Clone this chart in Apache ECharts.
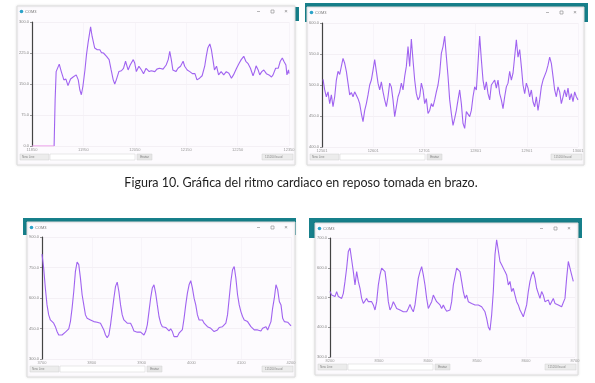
<!DOCTYPE html>
<html><head><meta charset="utf-8">
<script src="https://cdn.jsdelivr.net/npm/echarts@6/dist/echarts.min.js"></script>
<style>html,body{margin:0;padding:0;background:#fff}#c{width:595px;height:383px}</style>
</head><body><div id="c"></div>
<script>
// ---- DATA ----
const caption = 'Figura 10. Gráfica del ritmo cardiaco en reposo tomada en brazo.';
const windowTitle = 'COM3';

// Panel 1 (irregular samples)
const p1X = [43,45,47,53,57,62,66,70,75,80,86,90,93,96,99,103,106,109,114,117,122,127,132,135,139,145,150,154,158,161,164,169,174,178,182,187,191,197,200,203,208,213,217,222,228,232,239,243,248,255,261,265,268,271,274,280,284,289,294,297,302,307,312,317,321,326,331,336,339,342,346,349,352,355,359,363,368,373,378,383,388,392,398,403,407,412,416,420,425,430,433,436,440,443,447,451,456,461,466,469,474,479,483,487,490,494,496,499,500];
const p1Y = [0,112,180,198,180,160,162,146,162,167,172,160,136,124,144,184,221,249,288,265,237,233,233,226,225,217,209,184,160,150,160,180,182,188,205,184,196,209,200,180,193,184,175,188,180,182,180,186,188,186,196,209,229,209,184,180,188,193,205,193,184,180,175,175,160,164,170,193,217,237,247,233,209,184,193,172,180,172,180,176,164,172,188,200,209,217,205,200,188,170,180,194,184,172,180,184,175,172,167,172,188,188,205,213,205,196,172,184,175];
const p1BaseX = [0,43];
const p1BaseY = [0,0];
const p1YTicks = [0,75,150,225,300];
const p1XTicks = ['11850','11950','12050','12150','12250','12350'];

// Panel 2 (evenly spaced samples)
const p2Start = 2, p2Step = 3.255;
const p2Y = [509,492,481,489,470,484,465,481,508,522,517,530,543,535,522,503,484,488,481,489,486,478,470,454,441,459,470,484,500,508,524,541,522,503,492,505,489,476,465,481,503,497,476,449,465,481,489,503,492,514,530,562,530,574,540,508,486,476,481,503,492,470,478,454,459,470,465,476,489,500,519,551,562,579,546,514,476,454,435,446,459,476,492,470,438,430,457,459,449,459,481,497,492,535,579,541,508,492,505,486,476,500,497,508,495,508,486,476,462,481,497,503,522,508,519,546,573,545,557,530,500,486,503,495,481,492,473,465,481,459,476,497,508,505,522,532,545,535,514,492,481,497,489,470,481,492,481,495,476,486,473,489,481,476];
const p2YTicks = [400,450,500,550,600];
const p2XTicks = ['12501','12601','12701','12801','12901','13001'];

// Panel 3
const p3Start = 0, p3Step = 3.356;
const p3Y = [816,747,649,566,517,492,484,476,459,435,418,415,418,422,432,435,448,484,550,632,731,777,764,698,616,566,517,500,509,492,500,484,492,481,484,476,468,443,418,405,418,468,533,599,657,678,632,566,517,492,484,476,484,476,459,438,435,432,427,432,427,418,435,468,533,599,649,665,624,566,509,476,459,451,455,451,438,448,435,410,418,410,427,422,445,500,566,624,665,685,649,599,566,517,492,484,492,476,468,459,463,451,448,435,438,443,455,448,459,455,476,517,599,681,739,755,698,616,566,533,509,492,497,484,492,459,451,443,438,443,435,438,451,451,459,443,448,484,550,599,665,641,583,566,500,484,488,481,476,463];
const p3YTicks = [300,450,600,750,900];
const p3XTicks = ['3700','3800','3900','4000','4100','4200'];

// Panel 4
const p4Start = 0, p4Step = 3.401;
const p4Y = [520,508,514,503,520,503,508,497,514,554,599,655,666,627,587,542,587,554,531,497,480,486,497,486,480,486,475,458,486,542,576,599,604,587,542,486,458,469,486,475,463,469,458,463,452,458,452,463,477,462,452,475,520,565,587,604,576,542,497,463,475,486,508,497,486,480,475,463,475,463,454,452,458,486,542,570,599,604,587,554,520,497,508,486,492,480,486,475,480,475,477,469,475,452,430,401,390,441,520,644,694,688,621,610,604,587,576,542,554,520,531,508,486,475,458,447,435,441,475,520,554,576,587,565,531,514,497,520,508,486,480,492,475,486,497,480,486,475,480,469,475,497,565,621,599,576,554];
const p4YTicks = [300,400,500,600,700];
const p4XTicks = ['8200','8300','8400','8500','8600','8700'];

// ---- LAYOUT ----
const panels = [
  {grid:{left:32,top:22,width:257,height:124}, win:{x:17,y:6,w:278,h:159}, teal:null},
  {grid:{left:322,top:23,width:256,height:124}, win:{x:307,y:7,w:277,h:158}, teal:{x:305,y:3,w:283,h:19}},
  {grid:{left:42,top:237,width:249,height:122}, win:{x:27,y:222,w:268,h:155}, teal:{x:23,y:218,w:273,h:17}},
  {grid:{left:330,top:238,width:245,height:119}, win:{x:315,y:223,w:263,h:152}, teal:{x:309,y:218,w:273,h:20}}
];
const yTickSets = [p1YTicks,p2YTicks,p3YTicks,p4YTicks];
const xTickSets = [p1XTicks,p2XTicks,p3XTicks,p4XTicks];

function even(start, step, ys){ return ys.map((v,i)=>[start+i*step, v]); }
const seriesData = [
  p1X.map((x,i)=>[x,p1Y[i]]),
  even(p2Start,p2Step,p2Y),
  even(p3Start,p3Step,p3Y),
  even(p4Start,p4Step,p4Y)
];

const LINE = '#9b5bef';
const grids=[], xAxes=[], yAxes=[], series=[], graphics=[];
panels.forEach((p,i)=>{
  grids.push(p.grid);
  const yt = yTickSets[i], xt = xTickSets[i];
  xAxes.push({type:'value', gridIndex:i, min:0, max:500, interval:100, z:3,
    axisLine:{show:false}, axisTick:{show:false},
    axisLabel:{fontSize:4, color:'#999', margin:2, formatter:v=>xt[Math.round(v/100)]||''},
    splitLine:{show:true, lineStyle:{color:'#f4f0f5', width:0.6}}});
  yAxes.push({type:'value', gridIndex:i, min:yt[0], max:yt[yt.length-1], interval:yt[1]-yt[0], z:3,
    axisLine:{show:true, onZero:false, lineStyle:{color:'#444', width:1.2}},
    axisTick:{show:true, length:2, lineStyle:{color:'#555', width:0.6}},
    axisLabel:{fontSize:4, color:'#888', margin:3, formatter:v=>v.toFixed(1)},
    splitLine:{show:true, lineStyle:{color:'#eee9ef', width:0.6}}});
  series.push({type:'line', xAxisIndex:i, yAxisIndex:i, data:seriesData[i], showSymbol:false, z:4,
    lineStyle:{color:LINE, width:1.1, opacity:0.95}, silent:true, animation:false});
  // window decorations
  const w = p.win;
  if (p.teal) graphics.push({type:'rect', shape:{x:p.teal.x,y:p.teal.y,width:p.teal.w,height:p.teal.h}, style:{fill:'#17808b'}, z:-3});
  graphics.push({type:'rect', shape:{x:w.x,y:w.y,width:w.w,height:w.h}, style:{fill:'#fdfbfe', stroke:'#dcdcdc', lineWidth:1, shadowBlur:3, shadowColor:'rgba(0,0,0,0.10)'}, z:-2});
  graphics.push({type:'circle', shape:{cx:w.x+4.5, cy:w.y+5.5, r:1.8}, style:{fill:'#2ba3c9'}, z:-1});
  graphics.push({type:'text', x:w.x+8, y:w.y+5.5, style:{text:windowTitle, fontSize:4, fill:'#777', textVerticalAlign:'middle', font:'4px "DejaVu Sans"'}, z:-1});
  graphics.push({type:'line', shape:{x1:w.x+w.w-38, y1:w.y+5.5, x2:w.x+w.w-35, y2:w.y+5.5}, style:{stroke:'#888', lineWidth:0.6}, z:-1});
  graphics.push({type:'rect', shape:{x:w.x+w.w-24, y:w.y+4, width:3, height:3}, style:{fill:'none', stroke:'#888', lineWidth:0.6}, z:-1});
  graphics.push({type:'text', x:w.x+w.w-9, y:w.y+5.5, style:{text:'×', fontSize:6, fill:'#888', textAlign:'center', textVerticalAlign:'middle'}, z:-1});
  // bottom bar
  const by = w.y + w.h - 11;
  graphics.push({type:'rect', shape:{x:w.x+3, y:by, width:29, height:6}, style:{fill:'#ececec', stroke:'#d2d2d2', lineWidth:0.5}, z:-1});
  graphics.push({type:'text', x:w.x+5, y:by+3, style:{text:'New Line', fontSize:3, fill:'#888', textVerticalAlign:'middle'}, z:-1});
  graphics.push({type:'rect', shape:{x:w.x+33, y:by, width:85, height:6}, style:{fill:'#ffffff', stroke:'#d2d2d2', lineWidth:0.5}, z:-1});
  graphics.push({type:'rect', shape:{x:w.x+120, y:by, width:15, height:6}, style:{fill:'#e6e6e6', stroke:'#d2d2d2', lineWidth:0.5}, z:-1});
  graphics.push({type:'text', x:w.x+127.5, y:by+3, style:{text:'Enviar', fontSize:3, fill:'#777', textAlign:'center', textVerticalAlign:'middle'}, z:-1});
  graphics.push({type:'rect', shape:{x:w.x+w.w-33, y:by, width:31, height:6}, style:{fill:'#ececec', stroke:'#d2d2d2', lineWidth:0.5}, z:-1});
  graphics.push({type:'text', x:w.x+w.w-30, y:by+3, style:{text:'115200 baud', fontSize:3, fill:'#888', textVerticalAlign:'middle'}, z:-1});
});
// extra teal sliver next to panel 1
graphics.push({type:'rect', shape:{x:295,y:7,width:4,height:14}, style:{fill:'#17808b'}, z:-3});
// pink baseline in panel 1
series.push({type:'line', xAxisIndex:0, yAxisIndex:0, data:p1BaseX.map((x,i)=>[x,p1BaseY[i]]), showSymbol:false, z:4,
  lineStyle:{color:'#e98ae8', width:1.1}, silent:true, animation:false});
// caption
graphics.push({type:'text', x:301, y:183, style:{text:caption, fill:'#1e1e1e', font:'12.5px Lato', textAlign:'center', textVerticalAlign:'middle'}, z:5});

const chart = echarts.init(document.getElementById('c'), null, {renderer:'canvas'});
chart.setOption({animation:false, backgroundColor:'#ffffff', grid:grids, xAxis:xAxes, yAxis:yAxes, series:series, graphic:{elements:graphics}});
</script></body></html>
